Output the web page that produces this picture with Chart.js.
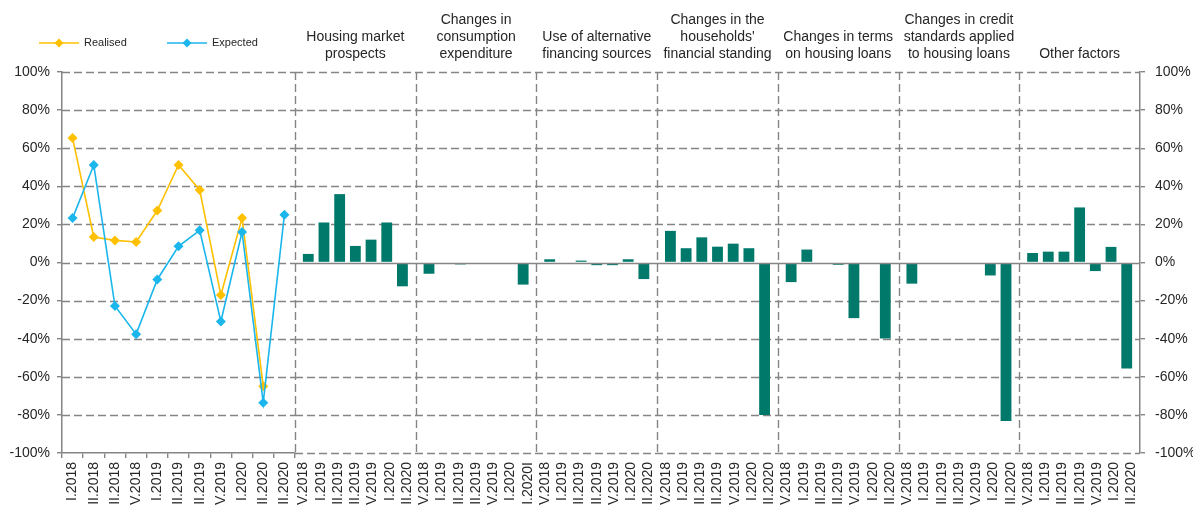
<!DOCTYPE html>
<html><head><meta charset="utf-8">
<script src="https://cdn.jsdelivr.net/npm/chart.js@4.4.0/dist/chart.umd.min.js"></script>
<style>
html,body{margin:0;padding:0;background:#fff;overflow:hidden}
#wrap{position:relative;width:1193px;height:510px;background:#fff}
canvas{position:absolute;left:0;top:0}
</style></head>
<body><div id="wrap"><canvas id="c1" width="1193" height="510"></canvas><canvas id="c2" width="1193" height="510"></canvas></div>
<script>
// ---------- data ----------
const lineLabels = ["I.2018","II.2018","II.2018","V.2018","I.2019","II.2019","II.2019","V.2019","I.2020","II.2020","II.2020"];
const realised = [65.3, 13.4, 11.6, 10.8, 27.3, 51.2, 38.1, -17.1, 23.3, -65, null];
const expected = [23.3, 51.2, -22.8, -37.6, -8.9, 8.5, 16.9, -31, 16, -73.6, 25.1];

const barLabels = ["V.2018","I.2019","II.2019","II.2019","V.2019","I.2020","II.2020"];
const barLabelsConsumption = ["V.2018","I.2019","II.2019","II.2019","V.2019","I.2020","I.2020I"];

const panelTitles = [
  ["Housing market","prospects"],
  ["Changes in","consumption","expenditure"],
  ["Use of alternative","financing sources"],
  ["Changes in the","households'","financial standing"],
  ["Changes in terms","on housing loans"],
  ["Changes in credit","standards applied","to housing loans"],
  ["Other factors"]
];

const housing     = [4.5, 21, 35.9, 8.7, 12, 21, -12.5];
const consumption = [-5.9, 0, -1, 0, 0, 0, -11.6];
const alternative = [1.7, 0, 1, -1.4, -1.4, 1.7, -8.7];
const households  = [16.6, 7.5, 13.2, 8.3, 9.9, 7.5, -80];
const terms       = [-10.3, 6.8, 0, -1.2, -29.2, 0, -39.9];
const credit      = [-11.1, 0, 0, 0, 0, -6.8, -83.2];
const other       = [5, 5.7, 5.7, 28.9, -4.5, 8.2, -55.7];

const yMin = -100, yMax = 100, yStep = 20;

// ---------- style ----------
const FONT = '"Liberation Sans", Arial, Helvetica, sans-serif';
const TXT = '#262626';
const GRID = '#858585';
const YELLOW = '#FFC000';
const BLUE = '#1BB6EC';
const TEAL = '#00796B';
const DASH = [8, 4];

const panels = [housing, consumption, alternative, households, terms, credit, other];
const allTickLabels = [];
panels.forEach((p, i) => (i === 1 ? barLabelsConsumption : barLabels).forEach(l => allTickLabels.push(l)));
const barDatasets = barLabels.map((_, j) => ({
  label: 'p' + j,
  xAxisID: 'xp',
  data: panels.map(p => p[j]),
  backgroundColor: TEAL,
  borderWidth: 0,
  barPercentage: 0.69,
  categoryPercentage: 0.91
}));

function hline(ctx, x1, x2, y) { ctx.beginPath(); ctx.moveTo(x1, y); ctx.lineTo(x2, y); ctx.stroke(); }
function vline(ctx, x, y1, y2) { ctx.beginPath(); ctx.moveTo(x, y1); ctx.lineTo(x, y2); ctx.stroke(); }

// ---------- chart 1: line ----------
const grid1 = {
  id: 'grid1',
  beforeDatasetsDraw(chart) {
    const {ctx, chartArea: a, scales: {y}} = chart;
    ctx.save();
    ctx.strokeStyle = GRID; ctx.lineWidth = 1.4; ctx.setLineDash(DASH);
    y.ticks.forEach(t => {
      if (t.value === yMin) return;
      const py = Math.round(y.getPixelForValue(t.value)) + 0.5;
      hline(ctx, a.left, a.right, py);
    });
    ctx.restore();
  },
  afterDraw(chart) {
    const ctx = chart.ctx;
    const items = [{label: 'Realised', color: YELLOW, x: 39}, {label: 'Expected', color: BLUE, x: 167}];
    const ly = 43;
    ctx.save();
    items.forEach(it => {
      ctx.strokeStyle = it.color; ctx.lineWidth = 1.6;
      hline(ctx, it.x, it.x + 40, ly);
      ctx.fillStyle = it.color;
      ctx.beginPath();
      const cx = it.x + 20, r = 4.5;
      ctx.moveTo(cx, ly - r); ctx.lineTo(cx + r, ly); ctx.lineTo(cx, ly + r); ctx.lineTo(cx - r, ly); ctx.closePath();
      ctx.fill();
      ctx.fillStyle = TXT; ctx.font = '11px ' + FONT; ctx.textBaseline = 'middle'; ctx.textAlign = 'left';
      ctx.fillText(it.label, it.x + 45, ly);
    });
    ctx.restore();
  }
};

new Chart(document.getElementById('c1'), {
  type: 'line',
  data: {
    labels: lineLabels,
    datasets: [
      {label: 'Realised', data: realised, borderColor: YELLOW, backgroundColor: YELLOW, borderWidth: 1.6,
       pointStyle: 'rectRot', pointRadius: 5, pointBorderWidth: 0, pointBackgroundColor: YELLOW, order: 2, tension: 0},
      {label: 'Expected', data: expected, borderColor: BLUE, backgroundColor: BLUE, borderWidth: 1.6,
       pointStyle: 'rectRot', pointRadius: 5, pointBorderWidth: 0, pointBackgroundColor: BLUE, order: 1, tension: 0}
    ]
  },
  options: {
    responsive: false, animation: false, devicePixelRatio: 1,
    layout: {padding: {top: 72, right: 1193 - 295, left: 0, bottom: 0}},
    plugins: {legend: {display: false}, tooltip: {enabled: false}},
    scales: {
      x: {
        offset: true,
        grid: {offset: true, drawOnChartArea: false, drawTicks: true, tickLength: 5, color: GRID, lineWidth: 1.4},
        border: {display: true, color: GRID, width: 1.5},
        ticks: {minRotation: 90, maxRotation: 90, autoSkip: false, padding: 4, color: TXT, font: {size: 14, family: FONT}},
        afterFit(s) { s.height = 57; }
      },
      y: {
        min: yMin, max: yMax,
        grid: {drawOnChartArea: false, drawTicks: true, tickLength: 5, color: GRID, lineWidth: 1.4},
        border: {display: true, color: GRID, width: 1.5},
        ticks: {stepSize: yStep, padding: 7, color: TXT, font: {size: 14, family: FONT}, callback: v => v + '%'},
        afterFit(s) { s.width = 62; }
      }
    }
  },
  plugins: [grid1]
});

// ---------- chart 2: bars ----------
const grid2 = {
  id: 'grid2',
  beforeDatasetsDraw(chart) {
    const {ctx, chartArea: a, scales: {y, xp}} = chart;
    ctx.save();
    ctx.strokeStyle = GRID; ctx.lineWidth = 1.4; ctx.setLineDash(DASH);
    y.ticks.forEach(t => {
      if (t.value === 0) return;
      const py = Math.round(y.getPixelForValue(t.value)) + 0.5;
      hline(ctx, a.left, a.right, py);
    });
    for (let k = 0; k < panelTitles.length; k++) {
      const px = Math.round(xp.getPixelForValue(k - 0.5)) + 0.5;
      vline(ctx, px, a.top, a.bottom);
    }
    ctx.restore();
  },
  afterDatasetsDraw(chart) {
    const {ctx, chartArea: a, scales: {y}} = chart;
    ctx.save();
    ctx.strokeStyle = GRID; ctx.lineWidth = 1.6;
    hline(ctx, a.left, a.right, Math.round(y.getPixelForValue(0)) + 0.5);
    ctx.restore();
  },
  afterDraw(chart) {
    const {ctx, scales: {xp}} = chart;
    ctx.save();
    ctx.fillStyle = TXT; ctx.font = '14px ' + FONT; ctx.textAlign = 'center'; ctx.textBaseline = 'middle';
    panelTitles.forEach((lines, k) => {
      const cx = xp.getPixelForValue(k);
      const n = lines.length;
      lines.forEach((ln, i) => ctx.fillText(ln, cx, 54 - (n - 1 - i) * 17));
    });
    ctx.restore();
  }
};

new Chart(document.getElementById('c2'), {
  type: 'bar',
  data: {labels: panelTitles.map(t => t.join(' ')), datasets: barDatasets},
  options: {
    responsive: false, animation: false, devicePixelRatio: 1,
    layout: {padding: {top: 72, left: 295, right: 0, bottom: 0}},
    plugins: {legend: {display: false}, tooltip: {enabled: false}},
    scales: {
      xp: {type: 'category', axis: 'x', position: 'bottom', display: false, offset: true,
           afterFit(s) { s.height = 0; }},
      x: {
        type: 'category', axis: 'x', position: 'bottom', labels: allTickLabels, offset: true,
        grid: {display: true, drawOnChartArea: false, drawTicks: true, tickLength: 5, color: 'rgba(0,0,0,0)'},
        border: {display: false},
        ticks: {minRotation: 90, maxRotation: 90, autoSkip: false, padding: 4, color: TXT, font: {size: 14, family: FONT}},
        afterFit(s) { s.height = 57; }
      },
      y: {
        position: 'right', min: yMin, max: yMax,
        grid: {drawOnChartArea: false, drawTicks: true, tickLength: 5, color: GRID, lineWidth: 1.4},
        border: {display: true, color: GRID, width: 1.5},
        ticks: {stepSize: yStep, padding: 10, color: TXT, font: {size: 14, family: FONT}, callback: v => v + '%'},
        afterFit(s) { s.width = 53; }
      }
    }
  },
  plugins: [grid2]
});
</script>
</body></html>
